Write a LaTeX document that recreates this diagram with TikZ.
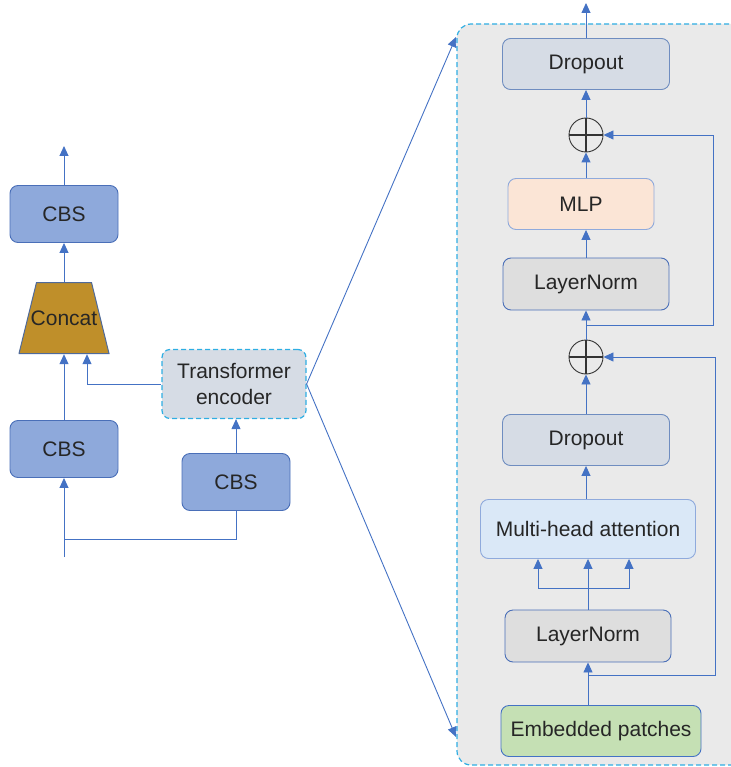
\documentclass[tikz,border=0pt]{standalone}
\usepackage{fontspec}
\setmainfont{Liberation Sans}
\usetikzlibrary{arrows.meta}

\definecolor{arrowblue}{HTML}{4472C4}
\definecolor{cbsfill}{HTML}{8EA9DB}
\definecolor{cbsline}{HTML}{4A6FB8}
\definecolor{catfill}{HTML}{BF8F2A}
\definecolor{catline}{HTML}{4F6A9A}
\definecolor{dashcyan}{HTML}{2FAEE3}
\definecolor{greyblue}{HTML}{D6DCE5}
\definecolor{dropline}{HTML}{6F8DC0}
\definecolor{mlpfill}{HTML}{FBE5D6}
\definecolor{softline}{HTML}{8FAADC}
\definecolor{normfill}{HTML}{DEDEDE}
\definecolor{mhafill}{HTML}{DAE8F7}
\definecolor{embfill}{HTML}{C5E0B4}
\definecolor{panelfill}{HTML}{EAEAEA}

\begin{document}
\begin{tikzpicture}[x=1pt, y=-1pt, font=\fontsize{21}{26}\selectfont, text=black!85]
        \tikzstyle{box} = [rounded corners=8pt, line width=0.9pt, inner sep=0pt]
        \tikzstyle{cyandash} = [draw=dashcyan, dash pattern=on 5pt off 3pt]
        \tikzstyle{cbs} = [box, draw=cbsline, fill=cbsfill, minimum width=108pt, minimum height=57pt]
        \tikzstyle{trans} = [box, cyandash, line width=1.2pt, fill=greyblue, minimum width=144pt, minimum height=69pt, align=center]
        \tikzstyle{concat} = [inner sep=0pt, minimum width=91pt, minimum height=72pt,
            path picture={\draw[fill=catfill, draw=catline, line width=1pt]
                ([xshift=0.5pt,yshift=0.5pt]path picture bounding box.south west) -- ([xshift=-0.5pt,yshift=0.5pt]path picture bounding box.south east)
                -- ([xshift=-18pt,yshift=-0.5pt]path picture bounding box.north east) -- ([xshift=18pt,yshift=-0.5pt]path picture bounding box.north west) -- cycle;}]
        \tikzstyle{drop} = [box, draw=dropline, fill=greyblue, minimum width=167pt, minimum height=51pt]
        \tikzstyle{mlp} = [box, draw=softline, fill=mlpfill, minimum width=146pt, minimum height=51pt]
        \tikzstyle{norm} = [box, draw=cbsline, fill=normfill, minimum width=166pt, minimum height=52pt]
        \tikzstyle{attn} = [box, draw=softline, fill=mhafill, minimum width=215pt, minimum height=59pt]
        \tikzstyle{embed} = [box, draw=arrowblue, fill=embfill, minimum width=200pt, minimum height=51pt]
        \tikzstyle{sum} = [draw=black!80, circle, minimum size=34pt, inner sep=0pt, line width=0.9pt]
        \tikzstyle{panel} = [cyandash, fill=panelfill, rounded corners=14pt, line width=1.2pt, minimum width=310pt, minimum height=741pt]
        \tikzstyle{link} = [color=arrowblue, line width=0.9pt]
        \tikzstyle{pointer} = [link, -{Triangle[width=9pt, length=10pt]}]
        \useasboundingbox (0,0) rectangle (730,767);
        % left branch
        \node[cbs] (cbs1) at (64,214) {CBS};
        \node[concat] (cat) at (64,318) {Concat};
        \node[cbs] (cbs2) at (64,449) {CBS};
        \node[cbs] (cbs3) at (236,482) {CBS};
        \node[trans] (te) at (234,384) {Transformer\\encoder};
        \coordinate (in) at (64,557);
        \coordinate (split) at (64,539);
        \coordinate (out) at (64,146);
        \path[pointer]
        (cbs1.north) edge (out)
        (cat.north) edge (cbs1.south)
        (cbs2.north) edge (cat.south)
        (in) edge (cbs2.south)
        (cbs3.north) edge (cbs3.north |- te.south);
        \draw[link] (split) -| (cbs3.south);
        \draw[pointer] (te.west) -| ([xshift=23pt]cat.south);
        % encoder detail
        \node[panel] (enc) at (612,394.5) {};
        \coordinate (zoomtop) at (456,37);
        \coordinate (zoombot) at (456,737);
        \path[pointer]
        (te.east) edge (zoomtop)
        (te.east) edge (zoombot);
        \node[drop] (drop2) at (586,64) {Dropout};
        \node[sum] (add2) at (586,135) {};
        \node[mlp] (mlp) at (581,204) {MLP};
        \node[norm] (norm2) at (586,284) {LayerNorm};
        \node[sum] (add1) at (586,357) {};
        \node[drop] (drop1) at (586,440) {Dropout};
        \node[attn] (mha) at (588,529) {Multi-head attention};
        \node[norm] (norm1) at (588,636) {LayerNorm};
        \node[embed] (emb) at (601,731) {Embedded patches};
        \foreach \s in {add1, add2}
            \draw[black!80, line width=1.2pt] (\s.north) -- (\s.south) (\s.west) -- (\s.east);
        \coordinate (heads) at (588,588);
        \coordinate (res1) at (588,675);
        \coordinate (res2) at (586,325);
        \coordinate (out2) at (586,3);
        \path[pointer]
        (norm1.south |- emb.north) edge (norm1.south)
        (drop1.south |- mha.north) edge (drop1.south)
        (drop1.north) edge (add1.south)
        (add1.north) edge (norm2.south)
        (norm2.north) edge (norm2.north |- mlp.south)
        (norm2.north |- mlp.north) edge (add2.south)
        (add2.north) edge (drop2.south)
        (drop2.north) edge (out2)
        (heads) edge (mha.south);
        \draw[link] (norm1.north) -- (heads);
        \draw[pointer] (heads) -| ([xshift=-50pt]mha.south);
        \draw[pointer] (heads) -| ([xshift=41pt]mha.south);
        \draw[pointer] (res1) -- ++(127,0) |- (add1.east);
        \draw[pointer] (res2) -- ++(127,0) |- (add2.east);
    \end{tikzpicture}
\end{document}
